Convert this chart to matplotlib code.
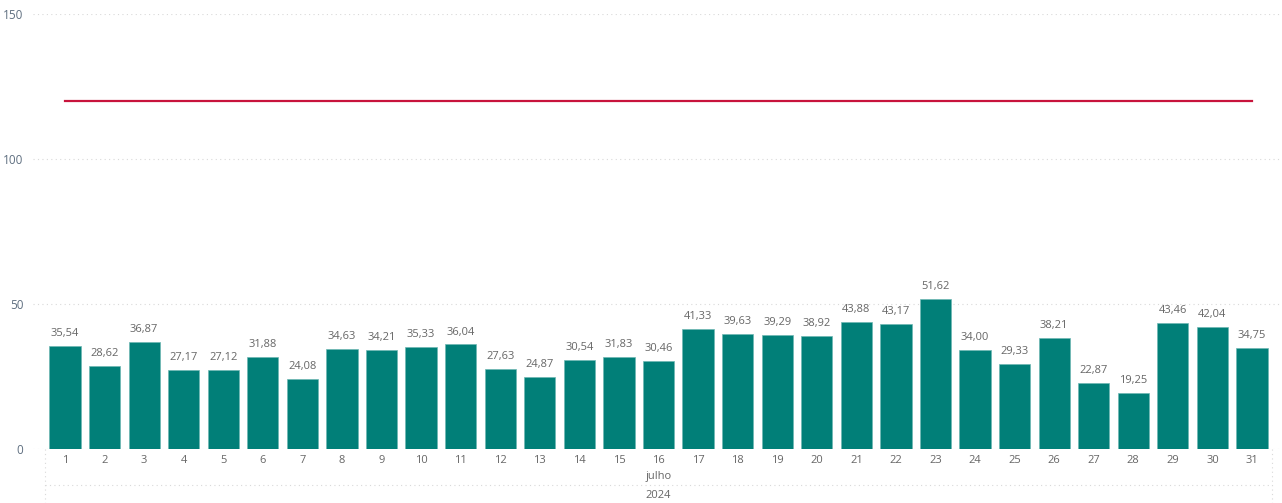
import matplotlib
matplotlib.use("Agg")
import matplotlib.pyplot as plt

days = list(range(1, 32))
values = [35.54, 28.62, 36.87, 27.17, 27.12, 31.88, 24.08, 34.63, 34.21, 35.33,
          36.04, 27.63, 24.87, 30.54, 31.83, 30.46, 41.33, 39.63, 39.29, 38.92,
          43.88, 43.17, 51.62, 34.00, 29.33, 38.21, 22.87, 19.25, 43.46, 42.04, 34.75]
target = [120] * 31
y_ticks = [0, 50, 100, 150]
month_label = "julho"
year_label = "2024"

plt.rcParams['font.family'] = ['Open Sans', 'DejaVu Sans']

W, H = 1282, 503
fig = plt.figure(figsize=(W / 100, H / 100), dpi=100)
ax_left, ax_right = 33, 1280
ax_top, ax_bottom = 14, 449
ax = fig.add_axes([ax_left / W, (H - ax_bottom) / H, (ax_right - ax_left) / W, (ax_bottom - ax_top) / H])

px_per_unit = (1252 - 65) / 30
xmin = 1 - (65 - ax_left) / px_per_unit
xmax = 31 + (ax_right - 1252) / px_per_unit
ax.set_xlim(xmin, xmax)
ax.set_ylim(0, 150)

for yt in y_ticks:
    ax.axhline(yt, color='#d9d9d9', linestyle=(0, (1, 3)), linewidth=0.8, zorder=0)

ax.bar(days, values, width=0.79, color='#017F78', edgecolor='#6fb8b3', linewidth=0.5, zorder=2)
ax.plot(days, target, color='#C8143C', linewidth=1.6, zorder=3)

for d, v in zip(days, values):
    ax.annotate(f"{v:.2f}".replace('.', ','), (d, v), xytext=(0, 5), textcoords='offset points',
                ha='center', va='bottom', fontsize=8, color='#666666')

ax.set_yticks(y_ticks)
ax.set_yticklabels([str(t) for t in y_ticks], fontsize=8.5, color='#5f6f80')
ax.set_xticks(days)
ax.set_xticklabels([str(d) for d in days], fontsize=8, color='#666666')
ax.tick_params(axis='both', length=0)
ax.tick_params(axis='y', pad=7)
ax.tick_params(axis='x', pad=4)
for s in ax.spines.values():
    s.set_visible(False)

trans = ax.get_xaxis_transform()
hpx = ax_bottom - ax_top
def yfrac(py):
    return (ax_bottom - py) / hpx

ax.plot([0.5, 31.5], [yfrac(485)] * 2, transform=trans, clip_on=False,
        color='#d9d9d9', linestyle=(0, (1, 3)), linewidth=0.8)
for xv in [0.5, 31.5]:
    ax.plot([xv, xv], [0, yfrac(503)], transform=trans, clip_on=False,
            color='#d9d9d9', linestyle=(0, (1, 3)), linewidth=0.8)

ax.text(16, yfrac(476), month_label, transform=trans, ha='center', va='center',
        fontsize=8, color='#666666')
ax.text(16, yfrac(495), year_label, transform=trans, ha='center', va='center',
        fontsize=8, color='#666666')

fig.savefig("out.png", dpi=100)
